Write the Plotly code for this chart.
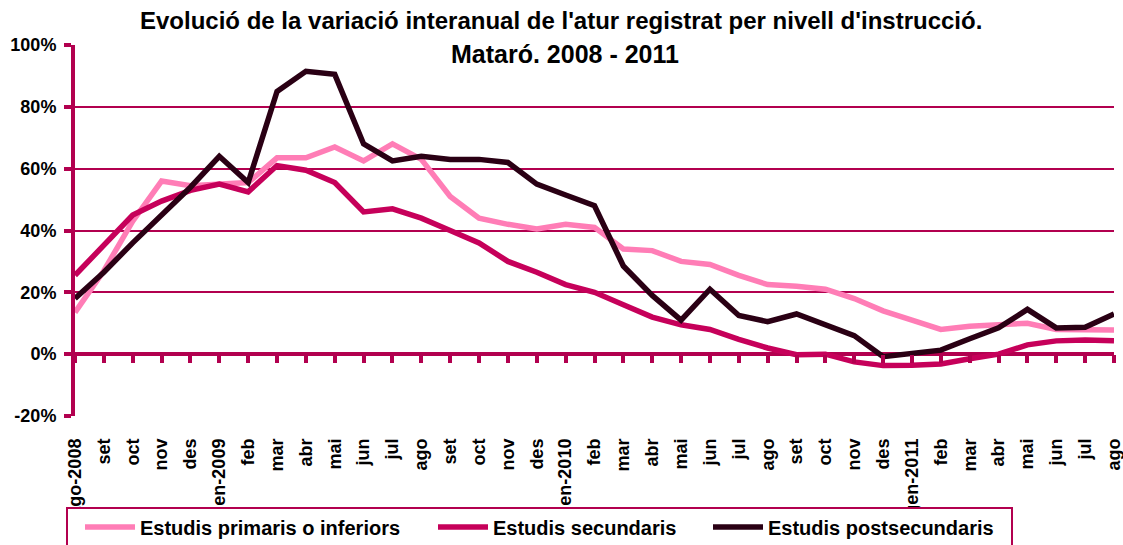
import plotly.graph_objects as go

months = ["ago-2008", "set", "oct", "nov", "des", "gen-2009", "feb", "mar", "abr", "mai",
          "jun", "jul", "ago", "set", "oct", "nov", "des", "gen-2010", "feb", "mar", "abr",
          "mai", "jun", "jul", "ago", "set", "oct", "nov", "des", "gen-2011", "feb", "mar",
          "abr", "mai", "jun", "jul", "ago"]

primaris = [13.5, 27, 43, 56, 54.5, 55, 55.5, 63.5, 63.5, 67, 62.5, 68, 63, 51, 44, 42,
            40.5, 42, 41, 34, 33.5, 30, 29, 25.5, 22.5, 22, 21, 18, 14, 11, 8, 9, 9.5,
            10, 8, 8, 7.8]
secundaris = [25.5, 35, 45, 49.5, 53, 55, 52.5, 61, 59.5, 55.5, 46, 47, 44, 40, 36, 30,
              26.5, 22.5, 20, 16, 12, 9.5, 8, 4.8, 2, -0.2, 0, -2.5, -3.7, -3.6, -3.2,
              -1.5, 0, 3, 4.3, 4.6, 4.3]
postsecundaris = [18, 26.5, 36, 45, 54, 64, 55.5, 85, 91.5, 90.5, 68, 62.5, 64, 63, 63,
                  62, 55, 51.5, 48, 28.5, 19, 11, 21, 12.5, 10.5, 13, 9.5, 6, -0.8, 0.3,
                  1.3, 5, 8.5, 14.5, 8.5, 8.7, 13]

series_names = ["Estudis primaris o inferiors", "Estudis secundaris", "Estudis postsecundaris"]
series_colors = ["#FF7DB6", "#C6005A", "#2A0014"]

title_line1 = "Evolució de la variació interanual de l'atur registrat per nivell d'instrucció."
title_line2 = "Mataró. 2008 - 2011"

AX = "#B2004F"
FONT = "Liberation Sans, Arial, sans-serif"

x = list(range(len(months)))

fig = go.Figure()
# invisible carrier so the zero-crossing tick axis (x2) is rendered
fig.add_trace(go.Scatter(x=x, y=primaris, xaxis="x2", mode="lines", opacity=0,
                         showlegend=False, hoverinfo="skip", line=dict(width=0)))
legends = ["legend", "legend2", "legend3"]
for name, vals, col, lg in zip(series_names, [primaris, secundaris, postsecundaris],
                               series_colors, legends):
    fig.add_trace(go.Scatter(x=x, y=vals, mode="lines", name=name, legend=lg,
                             line=dict(color=col, width=5.5), hoverinfo="skip"))

# Plot area: x 75..1114, y 45..416
W, H = 1123, 545
L, R, T, B = 75, 9, 45, 129
pw, ph = W - L - R, H - T - B

def px_x(p):
    return (p - L) / pw

def px_y(p):
    return (H - B - p) / ph

fig.update_layout(
    width=W, height=H,
    margin=dict(l=L, r=R, t=T, b=B, pad=0, autoexpand=False),
    paper_bgcolor="white", plot_bgcolor="white",
    font=dict(family=FONT, color="black"),
    showlegend=True,
    xaxis=dict(
        range=[0, 36], tickmode="array", tickvals=x, ticktext=months,
        tickangle=-90, ticks="", showgrid=False, zeroline=False, showline=False,
        tickfont=dict(family=FONT, size=18, weight="bold", color="black"),
        ticklabelstandoff=18, ticklabeloverflow="allow", automargin=False,
    ),
    xaxis2=dict(
        overlaying="x", anchor="free", position=20 / 120, range=[0, 36],
        tickmode="array", tickvals=x, showticklabels=False, side="bottom",
        ticks="outside", ticklen=8, tickwidth=4, tickcolor=AX,
        showgrid=False, zeroline=False, showline=False, automargin=False,
    ),
    yaxis=dict(
        range=[-20, 100], tickmode="array", tickvals=[-20, 0, 20, 40, 60, 80, 100],
        ticktext=["-20%", "0%", "20%", "40%", "60%", "80%", "100%"],
        showgrid=True, gridcolor=AX, gridwidth=2,
        zeroline=True, zerolinecolor=AX, zerolinewidth=4,
        showline=True, linecolor=AX, linewidth=4,
        ticks="outside", ticklen=7, tickwidth=4, tickcolor=AX,
        tickfont=dict(family=FONT, size=18, weight="bold", color="black"),
        ticklabelstandoff=4, automargin=False,
    ),
    annotations=[
        dict(text=title_line1, xref="paper", yref="paper", x=px_x(561), y=px_y(20),
             xanchor="center", yanchor="middle", showarrow=False,
             font=dict(family=FONT, size=24, weight="bold", color="black")),
        dict(text=title_line2, xref="paper", yref="paper", x=px_x(565), y=px_y(54),
             xanchor="center", yanchor="middle", showarrow=False,
             font=dict(family=FONT, size=25, weight="bold", color="black")),
    ],
    shapes=[
        dict(type="rect", xref="paper", yref="paper", x0=px_x(67), x1=px_x(1012),
             y0=px_y(508), y1=px_y(560), layer="above",
             fillcolor="white", line=dict(color=AX, width=2)),
    ],
)

leg_common = dict(orientation="h", yanchor="middle", xanchor="left",
                  bgcolor="rgba(0,0,0,0)", borderwidth=0, itemwidth=50,
                  font=dict(family=FONT, size=20, weight="bold", color="black"))
fig.update_layout(
    legend=dict(x=px_x(80), y=px_y(527), **leg_common),
    legend2=dict(x=px_x(433), y=px_y(527), **leg_common),
    legend3=dict(x=px_x(708), y=px_y(527), **leg_common),
)

fig.write_html("out.html", config={"displayModeBar": False},
               post_script="document.body.style.margin='0';")
